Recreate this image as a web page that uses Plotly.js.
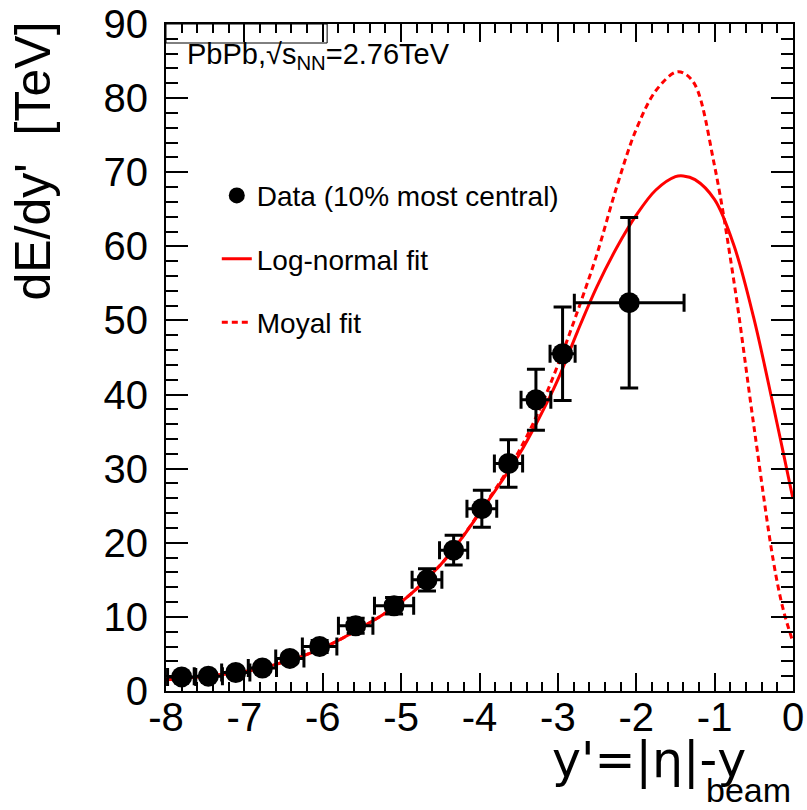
<!DOCTYPE html>
<html>
<head>
<meta charset="utf-8">
<script src="https://cdn.plot.ly/plotly-3.0.1.min.js"></script>
<style>html,body{margin:0;padding:0;background:#fff;}#chart{width:807px;height:810px;}</style>
</head>
<body>
<div id="chart"></div>
<script>
// Data points (10% most central)
const xData = [-7.80, -7.46, -7.11, -6.77, -6.42, -6.04, -5.58, -5.09, -4.67, -4.33, -3.97, -3.63, -3.28, -2.94, -2.09];
const yData = [1.9, 2.0, 2.5, 3.1, 4.4, 6.0, 8.8, 11.5, 15.0, 19.0, 24.6, 30.7, 39.3, 45.5, 52.4];
const xErr  = [0.18, 0.18, 0.18, 0.18, 0.18, 0.22, 0.22, 0.25, 0.19, 0.18, 0.19, 0.18, 0.19, 0.16, 0.70];
const yErr  = [0.3, 0.3, 0.4, 0.5, 0.6, 0.8, 1.0, 1.1, 1.5, 2.0, 2.5, 3.2, 4.1, 6.3, 11.5];

// Fit curves
const fitX = [-8, -7.5, -7, -6.5, -6, -5.5, -5, -4.5, -4.25, -4, -3.75, -3.5, -3.25, -3, -2.75, -2.5, -2.25, -2, -1.75, -1.5, -1.4, -1.25, -1, -0.75, -0.5, -0.25, -0.125, 0];
const logNormal = [1.5, 2.0, 2.6, 3.9, 5.8, 8.6, 12.0, 17.0, 20.3, 24.0, 27.8, 31.8, 36.6, 42.0, 48.5, 54.6, 59.8, 64.2, 67.6, 69.4, 69.5, 69.0, 66.3, 60.0, 50.3, 38.4, 32.2, 25.9];
const moyal = [1.5, 2.0, 2.6, 3.9, 5.8, 8.6, 12.0, 17.0, 20.3, 24.1, 28.0, 32.3, 37.6, 44.0, 51.2, 59.0, 68.0, 75.8, 81.0, 83.5, 83.4, 81.8, 70.8, 55.0, 35.8, 17.5, 11.0, 6.6];

const names = ["Data (10% most central)", "Log-normal fit", "Moyal fit"];
const xTickVals = [-8, -7, -6, -5, -4, -3, -2, -1, 0];
const xTickText = ["-8", "-7", "-6", "-5", "-4", "-3", "-2", "-1", "0"];
const yTickVals = [0, 10, 20, 30, 40, 50, 60, 70, 80, 90];
const yTickText = ["0", "10", "20", "30", "40", "50", "60", "70", "80", "90"];

const traces = [
  {x: fitX, y: logNormal, type: 'scatter', mode: 'lines', name: names[1], legendrank: 2, legendgroup: 'b',
   line: {color: '#ff0000', width: 3, shape: 'spline'}},
  {x: fitX, y: moyal, type: 'scatter', mode: 'lines', name: names[2], legendrank: 3, legendgroup: 'c',
   line: {color: '#ff0000', width: 3, dash: '6px,4px', shape: 'spline'}},
  {x: xData, y: yData, type: 'scatter', mode: 'markers', name: names[0], legendrank: 1, legendgroup: 'a',
   marker: {color: '#000', size: 21, symbol: 'circle'},
   error_x: {type: 'data', array: xErr, visible: true, color: '#000', thickness: 3, width: 9},
   error_y: {type: 'data', array: yErr, visible: true, color: '#000', thickness: 3, width: 9}}
];

const fontFam = 'Liberation Sans, Arial, Helvetica, sans-serif';

const layout = {
  width: 807, height: 810,
  margin: {l: 166, r: 14, t: 24, b: 119},
  paper_bgcolor: '#fff', plot_bgcolor: '#fff',
  font: {family: fontFam, color: '#000'},
  showlegend: true,
  legend: {x: 0.081, y: 0.78, xanchor: 'left', yanchor: 'top', bgcolor: 'rgba(0,0,0,0)',
           font: {size: 28, family: fontFam, color: '#000'}, traceorder: 'grouped', tracegroupgap: 24,
           itemsizing: 'trace'},
  xaxis: {range: [-8, 0], tickvals: xTickVals, ticktext: xTickText, ticks: 'inside', ticklen: 18, tickwidth: 2, tickcolor: '#000',
          showline: true, linewidth: 2, linecolor: '#000', mirror: 'allticks', showgrid: false, zeroline: false,
          tickfont: {size: 40, family: fontFam}, ticklabelstandoff: -10,
          minor: {dtick: 0.2, ticks: 'inside', ticklen: 9, tickwidth: 2, tickcolor: '#000', showgrid: false}},
  yaxis: {range: [0, 90], tickvals: yTickVals, ticktext: yTickText, ticks: 'inside', ticklen: 22, tickwidth: 2, tickcolor: '#000',
          showline: true, linewidth: 2, linecolor: '#000', mirror: 'allticks', showgrid: false, zeroline: false,
          tickfont: {size: 40, family: fontFam}, ticklabelstandoff: 8,
          minor: {dtick: 2, ticks: 'inside', ticklen: 12, tickwidth: 2, tickcolor: '#000', showgrid: false}},
  shapes: [
    {type: 'rect', xref: 'paper', yref: 'paper', x0: 0, x1: 0.257, y0: 0.9715, y1: 1,
     line: {color: '#000', width: 1}, fillcolor: 'rgba(0,0,0,0)'}
  ],
  annotations: [
    {text: "dE/dy'  [TeV]", xref: 'paper', yref: 'paper', x: -0.212, y: 1.006, xanchor: 'center', yanchor: 'top',
     textangle: -90, showarrow: false, font: {size: 50, family: fontFam, color: '#000'}},
    {text: "y'=|η|-y", xref: 'paper', yref: 'paper', x: 0.928, y: -0.058, xanchor: 'right', yanchor: 'top',
     showarrow: false, font: {size: 49, family: 'DejaVu Sans, sans-serif', color: '#000'}},
    {text: "beam", xref: 'paper', yref: 'paper', x: 0.858, y: -0.117, xanchor: 'left', yanchor: 'top',
     showarrow: false, font: {size: 34, family: fontFam, color: '#000'}},
    {text: "PbPb,√s<sub>NN</sub>=2.76TeV", xref: 'paper', yref: 'paper', x: 0.03, y: 0.982, xanchor: 'left', yanchor: 'top',
     showarrow: false, font: {size: 29, family: fontFam, color: '#000'}}
  ]
};

Plotly.newPlot('chart', traces, layout, {displayModeBar: false, staticPlot: true});
</script>
</body>
</html>
